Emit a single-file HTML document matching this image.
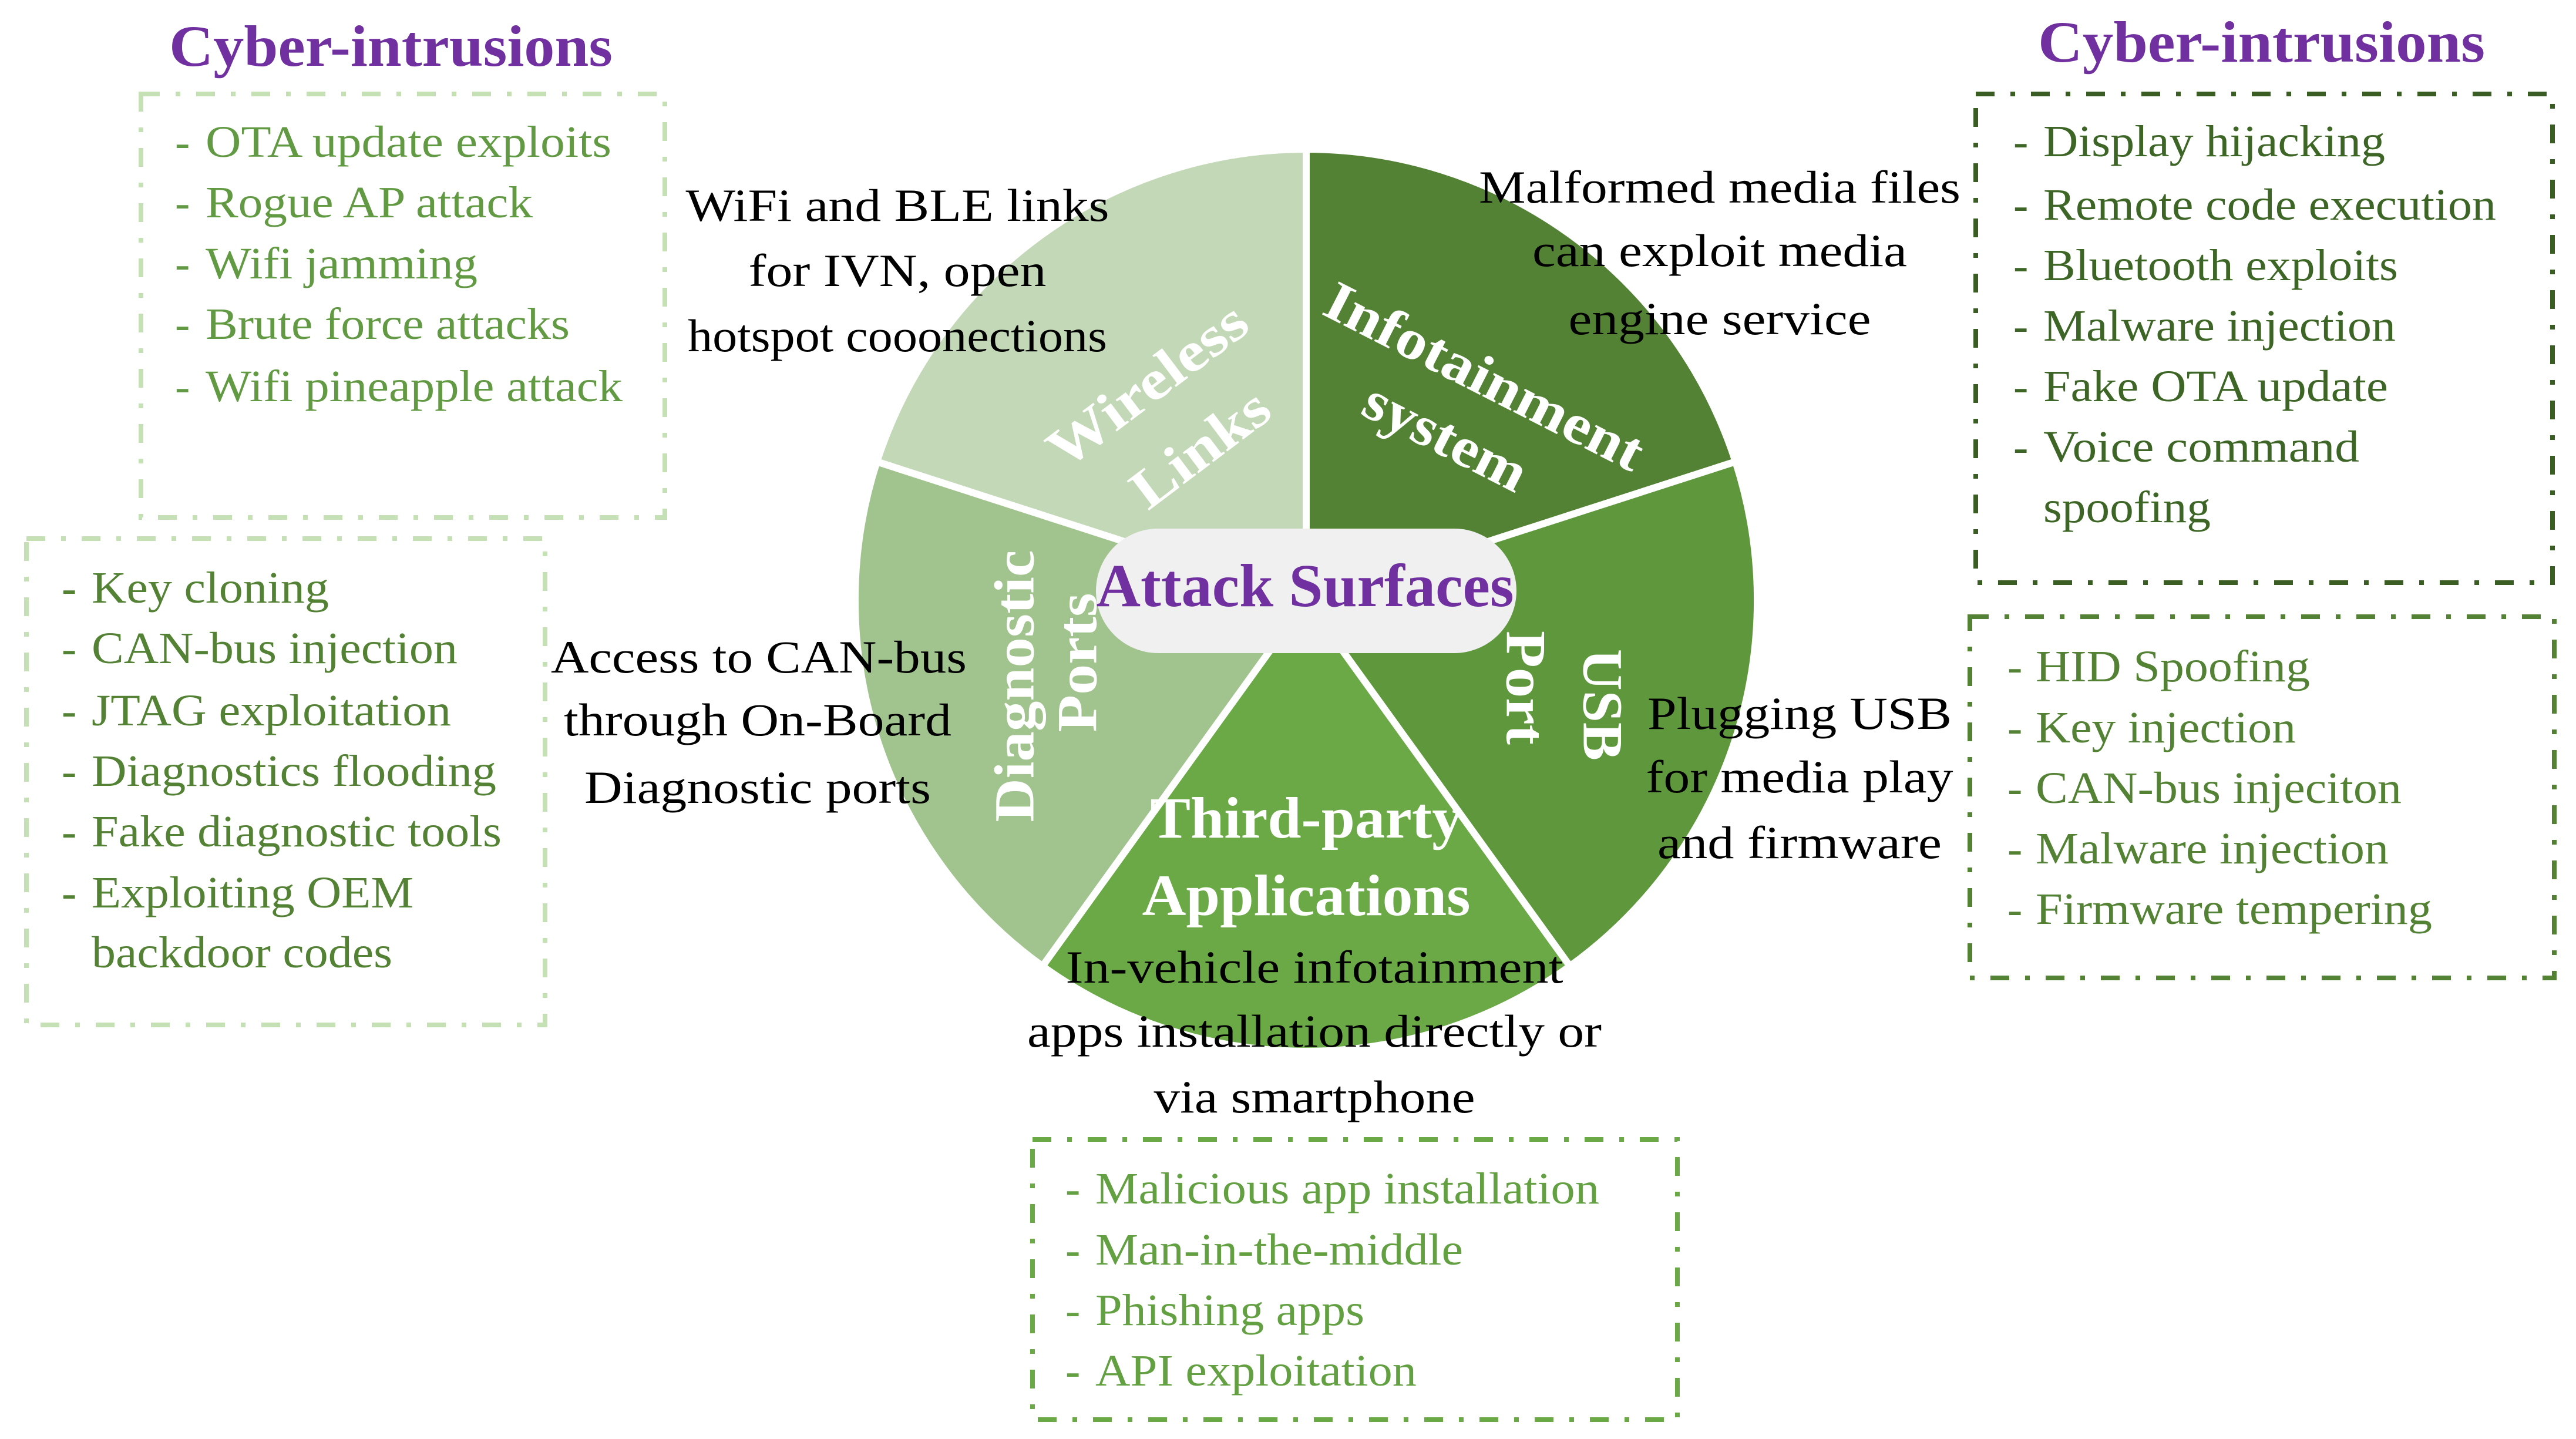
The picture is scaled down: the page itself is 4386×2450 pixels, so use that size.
<!DOCTYPE html>
<html><head><meta charset="utf-8"><style>
html,body{margin:0;padding:0;background:#fff;}
svg{display:block;}
text{font-family:"Liberation Serif",serif;}
</style></head><body>
<svg width="4386" height="2450" viewBox="0 0 4386 2450" xmlns="http://www.w3.org/2000/svg">
<defs></defs>
<!-- Pie -->
<g stroke="#fff" stroke-width="12" stroke-linejoin="round">
<path d="M2224,1022 L2224,254 A768,768 0 0 1 2955,786 Z" fill="#548235"/>
<path d="M2224,1022 L2955,786 A768,768 0 0 1 2673,1645 Z" fill="#5f983c"/>
<path d="M2224,1022 L2673,1645 A768,768 0 0 1 1775,1645 Z" fill="#6aa945"/>
<path d="M2224,1022 L1775,1645 A768,768 0 0 1 1493,786 Z" fill="#a1c38e"/>
<path d="M2224,1022 L1493,786 A768,768 0 0 1 2224,254 Z" fill="#c3d8b7"/>
</g>
<!-- slice labels -->
<g fill="#fff" font-weight="bold" font-size="96" text-anchor="middle" dominant-baseline="central">
<text transform="translate(1953,655) rotate(-37)" textLength="400" lengthAdjust="spacingAndGlyphs">Wireless</text>
<text transform="translate(2043,763) rotate(-37)" textLength="270" lengthAdjust="spacingAndGlyphs">Links</text>
<text transform="translate(2528,640) rotate(27)" textLength="596" lengthAdjust="spacingAndGlyphs">Infotainment</text>
<text transform="translate(2462,743) rotate(27)" textLength="300" lengthAdjust="spacingAndGlyphs">system</text>
<text transform="translate(2729,1200) rotate(90)" textLength="190" lengthAdjust="spacingAndGlyphs">USB</text>
<text transform="translate(2598,1171) rotate(90)" textLength="194" lengthAdjust="spacingAndGlyphs">Port</text>
<text transform="translate(1727,1168) rotate(-90)" textLength="463" lengthAdjust="spacingAndGlyphs">Diagnostic</text>
<text transform="translate(1834,1128) rotate(-90)" textLength="237" lengthAdjust="spacingAndGlyphs">Ports</text>
</g>
<g fill="#fff" font-weight="bold" font-size="100" text-anchor="middle">
<text x="2224" y="1426" textLength="531" lengthAdjust="spacingAndGlyphs">Third-party</text>
<text x="2224" y="1558" textLength="559" lengthAdjust="spacingAndGlyphs">Applications</text>
</g>
<!-- center pill -->
<rect x="1866" y="900" width="716" height="212" rx="106" fill="#f0f0f0"/>
<text x="2222" y="1032" fill="#7030a0" font-weight="bold" font-size="104" text-anchor="middle" textLength="711" lengthAdjust="spacingAndGlyphs">Attack Surfaces</text>

<!-- titles -->
<g fill="#7030a0" font-weight="bold" font-size="100">
<text x="288" y="112" textLength="755" lengthAdjust="spacingAndGlyphs">Cyber-intrusions</text>
<text x="3470" y="105" textLength="761" lengthAdjust="spacingAndGlyphs">Cyber-intrusions</text>
</g>

<!-- boxes -->
<g fill="none" stroke-width="8" stroke-dasharray="32 27 8 27">
<rect x="240" y="160" width="892" height="721" stroke="#c5e0b4"/>
<rect x="45" y="917" width="883" height="828" stroke="#c5e0b4"/>
<rect x="3364" y="160" width="982" height="832" stroke="#3a5d24"/>
<rect x="3354" y="1050" width="995" height="615" stroke="#548235"/>
<rect x="1758" y="1940" width="1098" height="477" stroke="#6aa945"/>
</g>

<!-- box texts -->
<g font-size="76">
<g fill="#629a43">
<text x="298" y="267">-</text><text x="350" y="267" textLength="691" lengthAdjust="spacingAndGlyphs">OTA update exploits</text>
<text x="298" y="370">-</text><text x="350" y="370" textLength="557" lengthAdjust="spacingAndGlyphs">Rogue AP attack</text>
<text x="298" y="474">-</text><text x="350" y="474" textLength="463" lengthAdjust="spacingAndGlyphs">Wifi jamming</text>
<text x="298" y="577">-</text><text x="350" y="577" textLength="620" lengthAdjust="spacingAndGlyphs">Brute force attacks</text>
<text x="298" y="683">-</text><text x="350" y="683" textLength="710" lengthAdjust="spacingAndGlyphs">Wifi pineapple attack</text>
</g>
<g fill="#548235">
<text x="105" y="1026">-</text><text x="156" y="1026" textLength="404" lengthAdjust="spacingAndGlyphs">Key cloning</text>
<text x="105" y="1129">-</text><text x="156" y="1129" textLength="623" lengthAdjust="spacingAndGlyphs">CAN-bus injection</text>
<text x="105" y="1235">-</text><text x="156" y="1235" textLength="612" lengthAdjust="spacingAndGlyphs">JTAG exploitation</text>
<text x="105" y="1338">-</text><text x="156" y="1338" textLength="689" lengthAdjust="spacingAndGlyphs">Diagnostics flooding</text>
<text x="105" y="1441">-</text><text x="156" y="1441" textLength="698" lengthAdjust="spacingAndGlyphs">Fake diagnostic tools</text>
<text x="105" y="1545">-</text><text x="156" y="1545" textLength="548" lengthAdjust="spacingAndGlyphs">Exploiting OEM</text>
<text x="156" y="1647" textLength="512" lengthAdjust="spacingAndGlyphs">backdoor codes</text>
</g>
<g fill="#3d6626">
<text x="3428" y="266">-</text><text x="3479" y="266" textLength="582" lengthAdjust="spacingAndGlyphs">Display hijacking</text>
<text x="3428" y="374">-</text><text x="3479" y="374" textLength="771" lengthAdjust="spacingAndGlyphs">Remote code execution</text>
<text x="3428" y="477">-</text><text x="3479" y="477" textLength="604" lengthAdjust="spacingAndGlyphs">Bluetooth exploits</text>
<text x="3428" y="580">-</text><text x="3479" y="580" textLength="600" lengthAdjust="spacingAndGlyphs">Malware injection</text>
<text x="3428" y="683">-</text><text x="3479" y="683" textLength="587" lengthAdjust="spacingAndGlyphs">Fake OTA update</text>
<text x="3428" y="786">-</text><text x="3479" y="786" textLength="538" lengthAdjust="spacingAndGlyphs">Voice command</text>
<text x="3479" y="889" textLength="285" lengthAdjust="spacingAndGlyphs">spoofing</text>
</g>
<g fill="#548235">
<text x="3418" y="1160">-</text><text x="3466" y="1160" textLength="467" lengthAdjust="spacingAndGlyphs">HID Spoofing</text>
<text x="3418" y="1264">-</text><text x="3466" y="1264" textLength="443" lengthAdjust="spacingAndGlyphs">Key injection</text>
<text x="3418" y="1367">-</text><text x="3466" y="1367" textLength="623" lengthAdjust="spacingAndGlyphs">CAN-bus injeciton</text>
<text x="3418" y="1470">-</text><text x="3466" y="1470" textLength="601" lengthAdjust="spacingAndGlyphs">Malware injection</text>
<text x="3418" y="1573">-</text><text x="3466" y="1573" textLength="675" lengthAdjust="spacingAndGlyphs">Firmware tempering</text>
</g>
<g fill="#62a041">
<text x="1814" y="2049">-</text><text x="1865" y="2049" textLength="858" lengthAdjust="spacingAndGlyphs">Malicious app installation</text>
<text x="1814" y="2153">-</text><text x="1865" y="2153" textLength="626" lengthAdjust="spacingAndGlyphs">Man-in-the-middle</text>
<text x="1814" y="2256">-</text><text x="1865" y="2256" textLength="458" lengthAdjust="spacingAndGlyphs">Phishing apps</text>
<text x="1814" y="2359">-</text><text x="1865" y="2359" textLength="547" lengthAdjust="spacingAndGlyphs">API exploitation</text>
</g>
</g>

<!-- descriptions -->
<g fill="#000" font-size="78" text-anchor="middle">
<text x="1528" y="376" textLength="721" lengthAdjust="spacingAndGlyphs">WiFi and BLE links</text>
<text x="1528" y="487" textLength="507" lengthAdjust="spacingAndGlyphs">for IVN, open</text>
<text x="1528" y="598" textLength="714" lengthAdjust="spacingAndGlyphs">hotspot cooonections</text>

<text x="1292" y="1145" textLength="708" lengthAdjust="spacingAndGlyphs">Access to CAN-bus</text>
<text x="1290" y="1252" textLength="660" lengthAdjust="spacingAndGlyphs">through On-Board</text>
<text x="1290" y="1367" textLength="590" lengthAdjust="spacingAndGlyphs">Diagnostic ports</text>

<text x="2928" y="345" textLength="820" lengthAdjust="spacingAndGlyphs">Malformed media files</text>
<text x="2928" y="453" textLength="638" lengthAdjust="spacingAndGlyphs">can exploit media</text>
<text x="2928" y="569" textLength="515" lengthAdjust="spacingAndGlyphs">engine service</text>

<text x="3064" y="1241" textLength="518" lengthAdjust="spacingAndGlyphs">Plugging USB</text>
<text x="3064" y="1349" textLength="523" lengthAdjust="spacingAndGlyphs">for media play</text>
<text x="3064" y="1461" textLength="484" lengthAdjust="spacingAndGlyphs">and firmware</text>

<text x="2238" y="1673" textLength="847" lengthAdjust="spacingAndGlyphs">In-vehicle infotainment</text>
<text x="2238" y="1782" textLength="978" lengthAdjust="spacingAndGlyphs">apps installation directly or</text>
<text x="2238" y="1894" textLength="547" lengthAdjust="spacingAndGlyphs">via smartphone</text>
</g>
</svg>
</body></html>
